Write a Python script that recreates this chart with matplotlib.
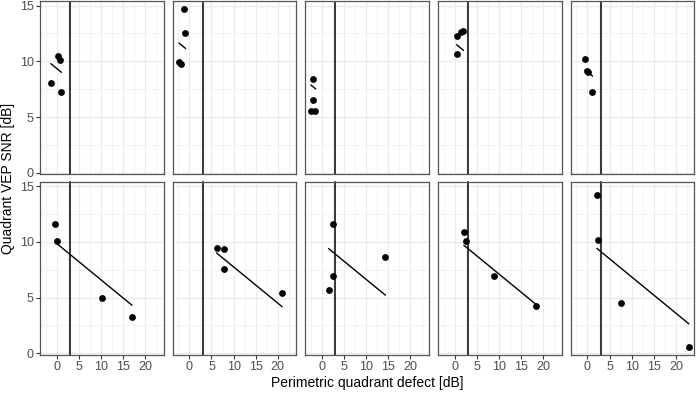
import matplotlib
matplotlib.use("Agg")
import matplotlib.pyplot as plt
import numpy as np

plt.rcParams["font.family"] = ["Liberation Sans", "DejaVu Sans"]

# perimetric quadrant defect [dB] per panel (top row, then bottom row)
defect = [
    [-1.27, 0.38, 0.74, 1.05],
    [-1.27, -0.89, -2.3, -1.9],
    [-2.08, -2.08, -2.5, -1.5],
    [0.45, 0.52, 1.5, 1.95],
    [-0.52, -0.15, 0.22, 1.12],
    [-0.38, 0.0, 10.36, 17.0],
    [6.2, 7.9, 7.9, 20.96],
    [2.39, 2.53, 1.5, 14.3],
    [2.09, 2.6, 8.8, 18.4],
    [2.17, 2.3, 7.6, 22.9],
]
# quadrant VEP SNR [dB]
snr = [
    [8.05, 10.44, 10.14, 7.22],
    [14.7, 12.58, 9.9, 9.78],
    [8.38, 6.5, 5.52, 5.52],
    [10.68, 12.23, 12.6, 12.76],
    [10.23, 9.12, 9.0, 7.22],
    [11.58, 10.04, 5.0, 3.3],
    [9.41, 9.32, 7.59, 5.45],
    [11.58, 6.91, 5.71, 8.63],
    [10.87, 10.04, 6.91, 4.23],
    [14.2, 10.2, 4.55, 0.6],
]
# model fit: common slope, per-panel intercept
slope = -0.325
intercepts = [9.36, 10.87, 7.05, 11.62, 9.05, 9.85, 11.0, 9.87, 10.36, 10.1]
cutoff = 3.0

x_ticks = [0, 5, 10, 15, 20]
y_ticks = [0, 5, 10, 15]

all_x = np.concatenate([np.array(v) for v in defect])
all_y = np.concatenate([np.array(v) for v in snr])
xr = all_x.max() - all_x.min()
yr = all_y.max() - all_y.min()
xlim = (all_x.min() - 0.05 * xr, all_x.max() + 0.05 * xr)
ylim = (all_y.min() - 0.05 * yr, all_y.max() + 0.05 * yr)

W, H = 696, 394
fig = plt.figure(figsize=(W / 100, H / 100), dpi=100)

left0, step, pw = 40, 132.7, 123.5
tops = [1, 181.5]
ph = 173.0

for i in range(10):
    row, col = divmod(i, 5)
    l = left0 + col * step
    t = tops[row]
    ax = fig.add_axes([l / W, 1 - (t + ph) / H, pw / W, ph / H])
    ax.set_xlim(xlim)
    ax.set_ylim(ylim)
    ax.set_xticks(x_ticks)
    ax.set_xticks(np.arange(-2.5, 25, 5), minor=True)
    ax.set_yticks(y_ticks)
    ax.set_yticks([2.5, 7.5, 12.5], minor=True)
    ax.grid(True, which="major", color="#EBEBEB", lw=0.9)
    ax.grid(True, which="minor", color="#F0F0F0", lw=0.6)
    ax.set_axisbelow(True)
    for s in ax.spines.values():
        s.set_color("#555555")
        s.set_linewidth(0.9)
    ax.tick_params(which="minor", length=0)
    ax.tick_params(which="major", length=3, width=0.8, color="#333333",
                   labelsize=9, labelcolor="#4D4D4D", pad=1.5)
    if row == 0:
        ax.tick_params(axis="x", which="major", length=0, labelbottom=False)
    if col > 0:
        ax.tick_params(axis="y", which="major", length=0, labelleft=False)

    ax.axvline(cutoff, color="black", lw=1.1, zorder=2)
    xs = np.array(defect[i])
    ys = np.array(snr[i])
    xf = np.array([xs.min(), xs.max()])
    ax.plot(xf, intercepts[i] + slope * xf, color="black", lw=1.0, zorder=3)
    ax.scatter(xs, ys, s=24, color="black", zorder=4, linewidths=0)

fig.text(8 / W, 1 - 178 / H, "Quadrant VEP SNR [dB]", rotation=90,
         ha="center", va="center", fontsize=10)
fig.text(367 / W, 1 - 383 / H, "Perimetric quadrant defect [dB]",
         ha="center", va="center", fontsize=10)

fig.savefig("out.png", dpi=100)
